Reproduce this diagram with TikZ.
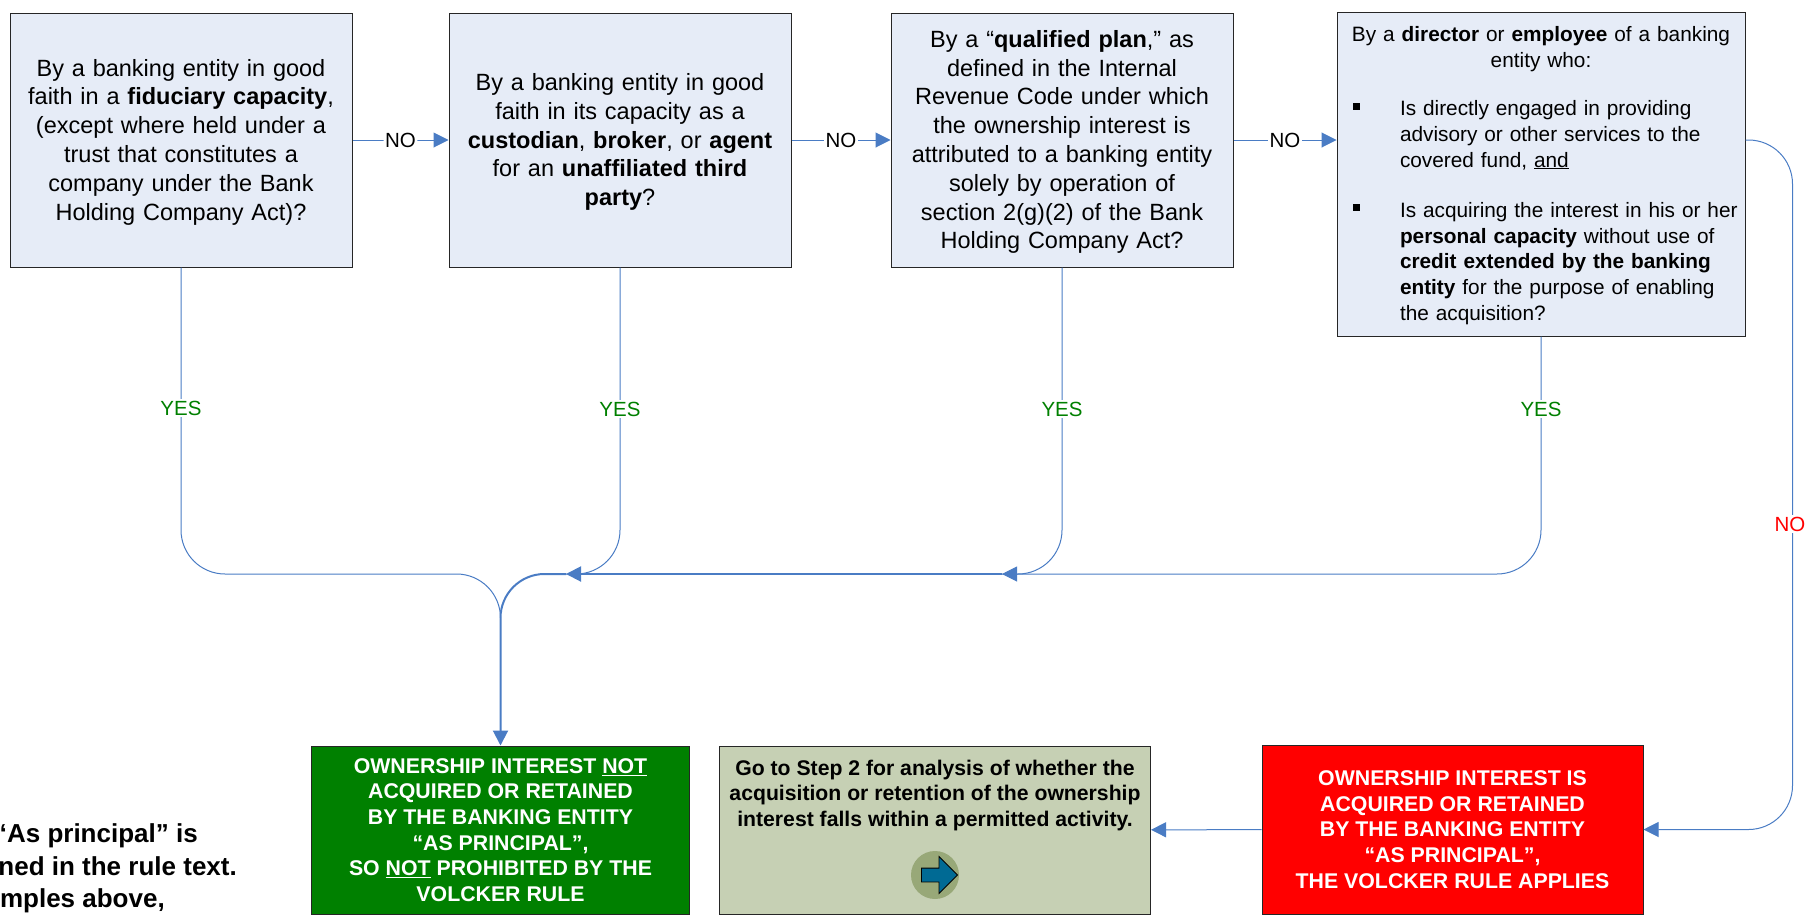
\documentclass[tikz,border=0pt]{standalone}
\usepackage{fontspec}
\setmainfont{Liberation Sans}
\usetikzlibrary{arrows.meta,shapes.arrows,calc}
\definecolor{boxblue}{HTML}{E6ECF7}
\definecolor{stepolive}{HTML}{C6D0B4}
\definecolor{circleolive}{HTML}{98A878}
\definecolor{arrowteal}{HTML}{006A94}
\definecolor{linkblue}{HTML}{4A7CC4}
\definecolor{yesgreen}{HTML}{008000}
\tikzstyle{question}=[rectangle,draw=black!85,fill=boxblue,line width=1pt,inner sep=0pt,align=center,text width=335pt,minimum width=342pt,minimum height=254pt,font=\fontsize{23.5}{28.8}\selectfont]
\tikzstyle{outcome}=[rectangle,draw=black!85,line width=1pt,inner sep=0pt,align=center,font=\bfseries\fontsize{21.3}{25.6}\selectfont]
\tikzstyle{edge} = [draw,line width=1pt,linkblue,rounded corners=44pt,-{Triangle[length=15pt,width=15pt]}]
\tikzstyle{plainedge} = [draw,line width=1pt,linkblue,rounded corners=44pt]
\tikzstyle{heavyedge} = [edge,line width=2pt]
\tikzstyle{weight} = [fill=white,inner sep=1.5pt,text=black,font=\fontsize{20.5}{24}\selectfont]
\newcommand{\firstline}[1]{\rule{0pt}{#1}}
\newcommand{\bulletline}[1]{\makebox[59pt][l]{\hspace{12pt}\raisebox{6pt}{\rule{7pt}{7pt}}}\parbox[t]{341pt}{\raggedright #1}}
\begin{document}
\begin{tikzpicture}[x=1pt,y=-1pt]
    \useasboundingbox (0,0) rectangle (1807,916);

    % question boxes
    \node[question] (fiduciary) at (181,140) {\firstline{21pt}By a banking entity in good\\faith in a \textbf{fiduciary capacity},\\(except where held under a\\trust that constitutes a\\company under the Bank\\Holding Company Act)?};
    \node[question] (custodian) at (620,140) {\firstline{21pt}By a banking entity in good\\faith in its capacity as a\\\textbf{custodian}, \textbf{broker}, or \textbf{agent}\\for an \textbf{unaffiliated third}\\\textbf{party}?};
    \node[question] (plan) at (1062,140) {\firstline{21pt}By a ``\textbf{qualified plan},'' as\\defined in the Internal\\Revenue Code under which\\the ownership interest is\\attributed to a banking entity\\solely by operation of\\section 2(g)(2) of the Bank\\Holding Company Act?};
    \node[question,text width=400pt,minimum width=408pt,minimum height=324pt,align=left,font=\fontsize{20.8}{25.7}\selectfont] (director) at (1541,174) {%
        {\centering\firstline{18.4pt}By a \textbf{director} or \textbf{employee} of a banking\\entity who:\par}
        \vspace{22.25pt}
        \bulletline{Is directly engaged in providing\\advisory or other services to the\\covered fund, \underline{and}}\par
        \vspace{31.55pt}
        \bulletline{Is acquiring the interest in his or her\\\textbf{personal capacity} without use of\\\textbf{credit extended by the banking}\\\textbf{entity} for the purpose of enabling\\the acquisition?}};

    % outcome boxes
    \node[outcome,fill=yesgreen,text=white,minimum width=378pt,minimum height=168pt] (notprincipal) at (500.5,830) {OWNERSHIP INTEREST \underline{NOT}\\ACQUIRED OR RETAINED\\BY THE BANKING ENTITY\\``AS PRINCIPAL'',\\SO \underline{NOT} PROHIBITED BY THE\\VOLCKER RULE};
    \node[outcome,fill=stepolive,minimum width=431pt,minimum height=168pt] (steptwo) at (935,830) {};
    \node[font=\bfseries\fontsize{21.2}{25.7}\selectfont,align=center,inner sep=0pt] (steptext) at (935,795.5) {Go to Step 2 for analysis of whether the\\acquisition or retention of the ownership\\interest falls within a permitted activity.};
    \node[outcome,fill=red,text=white,minimum width=381pt,minimum height=169pt] (principal) at (1452.5,829.5) {OWNERSHIP INTEREST IS\\ACQUIRED OR RETAINED\\BY THE BANKING ENTITY\\``AS PRINCIPAL'',\\THE VOLCKER RULE APPLIES};

    % go-to button
    \node[circle,fill=circleolive,minimum size=48pt,inner sep=0pt] (button) at (935,875) {};
    \node[single arrow,draw=black,line width=0.8pt,fill=arrowteal,inner sep=0pt,minimum height=36pt,single arrow head extend=11.5pt] (buttonarrow) at (936,875) {\rule{0pt}{13pt}};

    % footnote cut by the page
    \foreach \x/\y/\name/\note in {198/836/notea/{``As principal'' is}, 237/866/noteb/{ned in the rule text.}, 165/901/notec/{mples above,}}
        \node[anchor=east,inner sep=0pt,font=\bfseries\fontsize{26}{30}\selectfont] (\name) at (\x,\y) {\note};

    \coordinate (join) at (500.5,574);
    \coordinate (tipa) at (566,574);
    \coordinate (tipb) at (1002,574);
    \coordinate (farright) at (1792.5,500);
    \coordinate (exit) at ($(plan.east -| director.east)$);

    % yes edges
    \path[plainedge] (fiduciary.south) |- (join) -- ($(join)+(0,44)$);
    \path[plainedge] (custodian.south) |- (tipa);
    \path[plainedge] (plan.south) |- (tipb);
    \path[edge] (director.south) |- (tipb);
    \path[heavyedge,rounded corners=0pt] (tipb) -- (tipa);
    \path[heavyedge] (tipa) -- (join) -- (notprincipal.north);

    \foreach \x/\y/\name in {181/408/yesa, 620/409/yesb, 1062/409/yesc, 1541/409/yesd}
        \node[weight,text=yesgreen] (\name) at (\x,\y) {YES};

    % no edges
    \foreach \source/ \dest in {fiduciary/custodian, custodian/plan}
        \path[edge] (\source) -- node[weight] {NO} (\dest);
    \path[edge] (plan.east) -- node[weight] {NO} (plan.east -| director.west);
    \path[plainedge] (exit) -| (farright);
    \path[edge] (farright) |- (principal.east);
    \node[weight,text=red] (noright) at (1790,524) {NO};
    \path[edge] (principal) -- (steptwo);
\end{tikzpicture}
\end{document}
